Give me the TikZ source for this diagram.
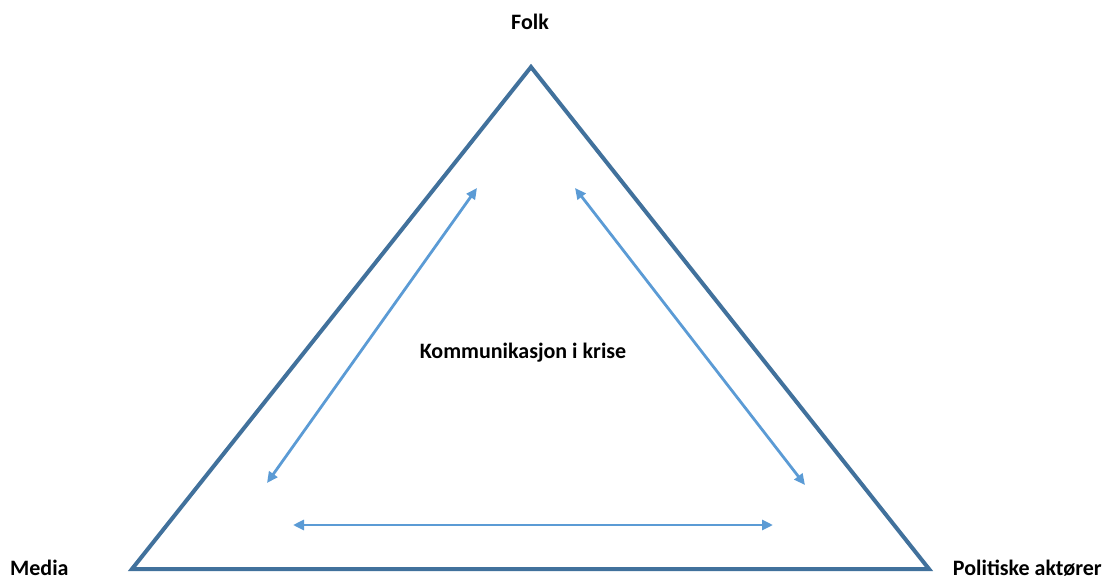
\documentclass[tikz,border=0pt]{standalone}
\usepackage{fontspec}
\setmainfont{Carlito}
\usetikzlibrary{arrows.meta}
\definecolor{frame}{RGB}{65,113,156}
\definecolor{flow}{RGB}{91,155,213}
\tikzset{
  label/.style={font=\bfseries\fontsize{22}{26}\selectfont, text=black, inner sep=0pt},
  rel/.style={draw=flow, line width=2.8pt, {Triangle[length=11pt,width=10pt]}-{Triangle[length=11pt,width=10pt]}},
  edge/.style={draw=frame, line width=4pt, line join=miter}
}
\begin{document}
\begin{tikzpicture}[x=1pt,y=-1pt]
  \useasboundingbox (0,0) rectangle (1106,578);
  % corners of the triangle
  \coordinate (top) at (531,67);
  \coordinate (bl) at (132,569);
  \coordinate (br) at (929,569);
  \draw[edge] (top) -- (bl) -- (br) -- cycle;

  % actor labels
  \node[label, anchor=base] (folk) at (530,30) {Folk};
  \node[label, anchor=base west] (media) at (10,575) {Media};
  \node[label, anchor=base east] (pol) at (1102,575) {Politiske aktører};
  \node[label, anchor=base] (centre) at (523,358) {Kommunikasjon i krise};

  % two-way relations
  \coordinate (l1) at (477,188);
  \coordinate (l2) at (267,483);
  \coordinate (r1) at (575,188);
  \coordinate (r2) at (805,485);
  \coordinate (b1) at (293,525);
  \coordinate (b2) at (773,525);
  \draw[rel] (l1) -- (l2);
  \draw[rel] (r1) -- (r2);
  \draw[rel] (b1) -- (b2);
\end{tikzpicture}
\end{document}
